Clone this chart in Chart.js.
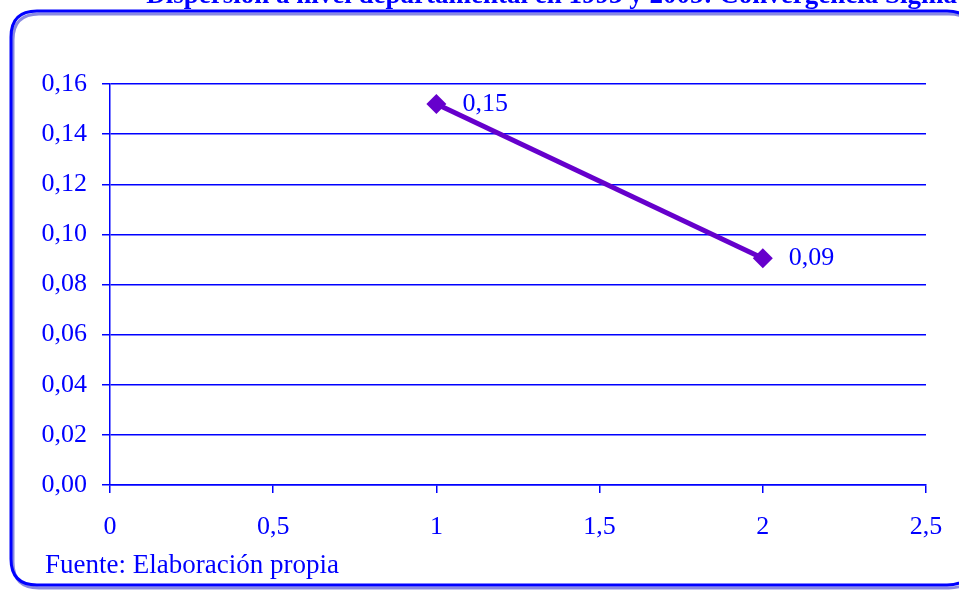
<!DOCTYPE html>
<html>
<head>
<meta charset="utf-8">
<script src="https://cdn.jsdelivr.net/npm/chart.js@4.4.1/dist/chart.umd.min.js"></script>
<style>
  html, body { margin: 0; padding: 0; background: #ffffff; }
  #wrap { width: 959px; height: 590px; position: relative; }
</style>
</head>
<body>
<div id="wrap"><canvas id="c" width="959" height="590"></canvas></div>
<script>
// ---- data ----
const xValues = [1, 2];
const yValues = [0.152, 0.0905];
const pointLabels = ["0,15", "0,09"];
const yTickMin = 0, yTickMax = 0.16, yTickStep = 0.02;
const xTickMin = 0, xTickMax = 2.5, xTickStep = 0.5;
const titleText = "Dispersión a nivel departamental en 1993 y 2005: Convergencia Sigma";
const sourceText = "Fuente: Elaboración propia";

const BLUE = "#0000ff";
const PURPLE = "#6600cc";
const SERIF = "'Liberation Serif', 'Times New Roman', serif";

const frame = {
  id: "frame",
  beforeDraw(chart) {
    const ctx = chart.ctx;
    ctx.save();
    ctx.fillStyle = "#ffffff";
    ctx.fillRect(0, 0, chart.width, chart.height);
    const rr = (x, y, w, h, r) => {
      ctx.beginPath();
      ctx.moveTo(x + r, y);
      ctx.lineTo(x + w - r, y);
      ctx.quadraticCurveTo(x + w, y, x + w, y + r);
      ctx.lineTo(x + w, y + h - r);
      ctx.quadraticCurveTo(x + w, y + h, x + w - r, y + h);
      ctx.lineTo(x + r, y + h);
      ctx.quadraticCurveTo(x, y + h, x, y + h - r);
      ctx.lineTo(x, y + r);
      ctx.quadraticCurveTo(x, y, x + r, y);
      ctx.closePath();
    };
    ctx.strokeStyle = "rgba(40,40,200,0.55)";
    ctx.lineWidth = 3;
    rr(13, 14, 962, 574, 26);
    ctx.stroke();
    ctx.strokeStyle = BLUE;
    ctx.lineWidth = 3;
    rr(11, 11, 962, 574, 26);
    ctx.stroke();
    ctx.restore();
  },
  afterDraw(chart) {
    const ctx = chart.ctx;
    ctx.save();
    // clipped title
    ctx.fillStyle = BLUE;
    ctx.font = "bold 27px " + SERIF;
    ctx.textAlign = "right";
    ctx.textBaseline = "alphabetic";
    ctx.fillText(titleText, 957, 3);
    // source
    ctx.font = "27px " + SERIF;
    ctx.textAlign = "left";
    ctx.fillText(sourceText, 45, 573);
    // point labels
    const meta = chart.getDatasetMeta(0);
    ctx.font = "26px " + SERIF;
    ctx.textBaseline = "middle";
    meta.data.forEach((pt, i) => {
      ctx.fillText(pointLabels[i], pt.x + 26, pt.y);
    });
    ctx.restore();
  }
};

new Chart(document.getElementById("c"), {
  type: "scatter",
  data: {
    datasets: [{
      data: xValues.map((x, i) => ({ x, y: yValues[i] })),
      showLine: true,
      borderColor: PURPLE,
      backgroundColor: PURPLE,
      borderWidth: 5,
      pointStyle: "rectRot",
      pointRadius: 10,
      pointHoverRadius: 10,
      pointBorderWidth: 0
    }]
  },
  options: {
    responsive: false,
    animation: false,
    events: [],
    layout: { padding: { left: 0, right: 33, top: 84, bottom: 0 } },
    plugins: { legend: { display: false }, tooltip: { enabled: false }, title: { display: false } },
    scales: {
      x: {
        type: "linear",
        min: xTickMin, max: xTickMax,
        afterFit(s) { s.height = 105; s.paddingLeft = 0; s.paddingRight = 0; },
        ticks: {
          stepSize: xTickStep,
          color: BLUE,
          padding: 19,
          font: { family: SERIF, size: 26 },
          callback: v => String(v).replace(".", ",")
        },
        grid: { drawOnChartArea: false, drawTicks: true, tickLength: 8, color: BLUE, lineWidth: 1.5 },
        border: { display: true, color: BLUE, width: 1.5 }
      },
      y: {
        type: "linear",
        min: yTickMin, max: yTickMax,
        afterFit(s) { s.width = 110; s.paddingTop = 0; s.paddingBottom = 0; },
        ticks: {
          stepSize: yTickStep,
          color: BLUE,
          padding: 15,
          font: { family: SERIF, size: 26 },
          callback: v => v.toFixed(2).replace(".", ",")
        },
        grid: { drawOnChartArea: true, drawTicks: true, tickLength: 8, color: BLUE, lineWidth: 1.5 },
        border: { display: true, color: BLUE, width: 1.5 }
      }
    }
  },
  plugins: [frame]
});
</script>
</body>
</html>
